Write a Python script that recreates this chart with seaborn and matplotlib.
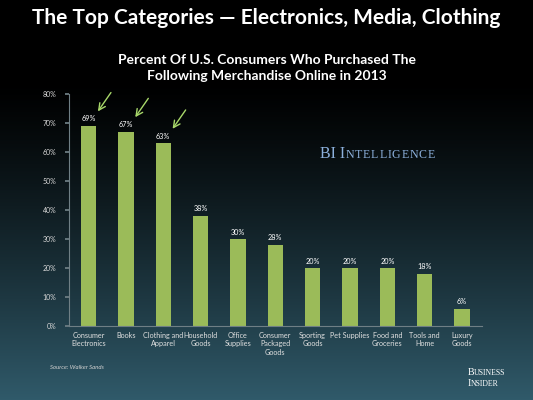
import numpy as np
import pandas as pd
import matplotlib
matplotlib.use("Agg")
import matplotlib.pyplot as plt
import seaborn as sns

# data
categories = ["Consumer\nElectronics", "Books", "Clothing and\nApparel", "Household\nGoods",
              "Office\nSupplies", "Consumer\nPackaged\nGoods", "Sporting\nGoods", "Pet Supplies",
              "Food and\nGroceries", "Tools and\nHome", "Luxury\nGoods"]
percent = [69, 67, 63, 38, 30, 28, 20, 20, 20, 18, 6]
arrow_bars = [0, 1, 2]
yticks = [0, 10, 20, 30, 40, 50, 60, 70, 80]

sns.set_theme(style="white")
plt.rcParams["font.family"] = ["Lato", "DejaVu Sans"]

df = pd.DataFrame({"category": categories, "percent": percent})

fig = plt.figure(figsize=(5.33, 4.0), dpi=100)

# dark gradient background
bg = fig.add_axes([0, 0, 1, 1], zorder=0)
t = np.linspace(0, 1, 400)[:, None]
top = np.array([0, 0, 0])
bot = np.array([48, 90, 106]) / 255.0
prof = np.clip((t - 0.2) / 0.8, 0, 1) ** 1.25
grad = top + (bot - top) * prof[:, :, None] * np.ones((1, 10, 1))
bg.imshow(grad, aspect="auto", extent=[0, 1, 0, 1], origin="upper")
bg.set_axis_off()

ax = fig.add_axes([0.129, 0.185, 0.775, 0.58], zorder=1)
ax.patch.set_alpha(0)
sns.barplot(data=df, x="category", y="percent", color="#9bbb59", width=0.41,
            saturation=1, edgecolor="none", linewidth=0, ax=ax)
ax.set_xlim(-0.53, 10.53)
ax.set_ylim(0, 80)
ax.set_yticks(yticks)
ax.set_yticklabels([f"{v}%" for v in yticks], color="#d8d8d8", fontsize=5)
ax.set_xticks(range(len(categories)))
ax.set_xticklabels(categories, color="#e0e0e0", fontsize=5.2, linespacing=1.25)
ax.set_xlabel("")
ax.set_ylabel("")
for s in ["top", "right"]:
    ax.spines[s].set_visible(False)
for s in ["left", "bottom"]:
    ax.spines[s].set_color("#6f7f85")
    ax.spines[s].set_linewidth(0.8)
ax.tick_params(axis="y", length=3, color="#6f7f85", pad=6, left=True)
ax.tick_params(axis="x", length=0, pad=4)

for i, v in enumerate(percent):
    ax.text(i, v + 1.2, f"{v}%", ha="center", va="bottom", color="white", fontsize=5.2)

for i in arrow_bars:
    ax.annotate("", xy=(i + 0.25, percent[i] + 5.0), xytext=(i + 0.6, percent[i] + 11.5),
                arrowprops=dict(arrowstyle="->", color="#a8d86a", lw=1.0,
                                shrinkA=0, shrinkB=0, clip_on=False),
                annotation_clip=False)

fig.text(0.5, 0.955, "The Top Categories \u2014 Electronics, Media, Clothing",
         ha="center", va="center", color="white", fontsize=15, fontweight="bold")
fig.text(0.5, 0.83, "Percent Of U.S. Consumers Who Purchased The\nFollowing Merchandise Online in 2013",
         ha="center", va="center", color="white", fontsize=10, fontweight="bold",
         linespacing=1.5)

# BI Intelligence wordmark, small caps faked with two sizes
renderer = fig.canvas.get_renderer()
t1 = fig.text(0.600, 0.605, "BI I", ha="left", va="baseline", color="#8cb0dc",
              fontsize=11.5, family="Liberation Serif")
w1 = t1.get_window_extent(renderer).width / fig.bbox.width
x = 0.600 + w1 + 0.001
for ch in "NTELLIGENCE":
    c = fig.text(x, 0.605, ch, ha="left", va="baseline", color="#8cb0dc",
                 fontsize=8.6, family="Liberation Serif")
    x += c.get_window_extent(renderer).width / fig.bbox.width + 0.0015

fig.text(0.094, 0.082, "Source: Walker Sands", ha="left", va="center", color="#d0d0d0",
         fontsize=4.3, style="italic")
# Business Insider wordmark
for y, word in [(0.063, "USINESS"), (0.035, "NSIDER")]:
    first = "B" if word == "USINESS" else "I"
    a = fig.text(0.877, y, first, ha="left", va="baseline", color="white",
                 fontsize=7.2, family="Liberation Serif")
    wa = a.get_window_extent(renderer).width / fig.bbox.width
    fig.text(0.877 + wa, y, word, ha="left", va="baseline", color="white",
             fontsize=5.6, family="Liberation Serif")

fig.savefig("out.png", dpi=100)
